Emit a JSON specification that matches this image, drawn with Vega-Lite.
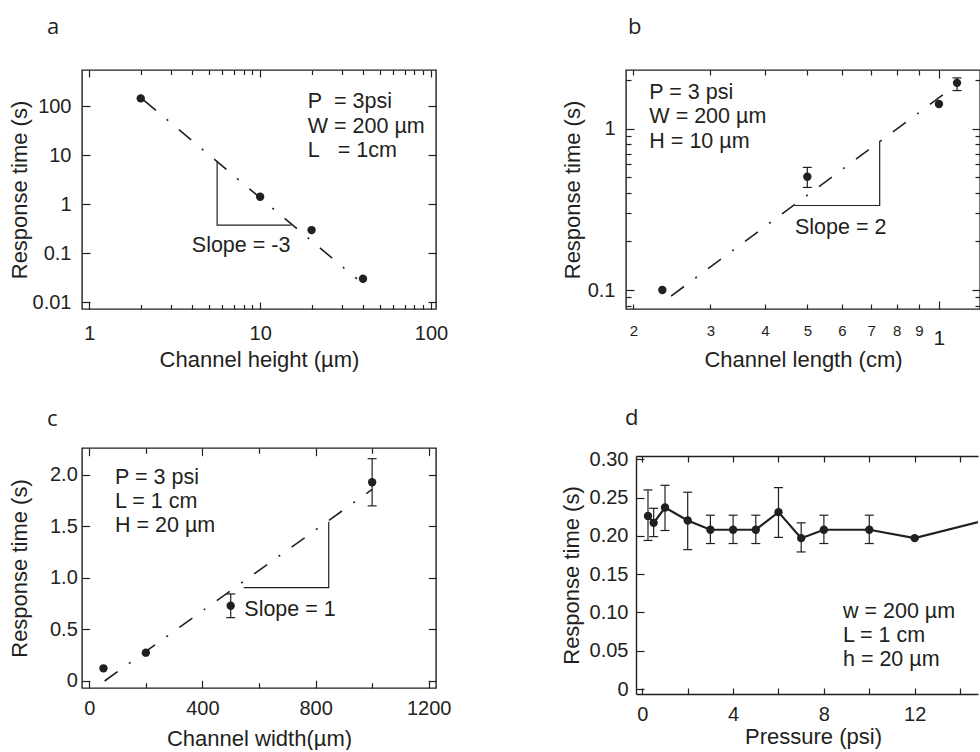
{
 "$schema": "https://vega.github.io/schema/vega-lite/v6.json",
 "background": "white",
 "padding": {"left": 7, "top": 15, "right": 0, "bottom": 0},
 "columns": 2,
 "align": "none",
 "bounds": "full",
 "spacing": {"row": 36, "column": 108},
 "config": {
  "font": "Liberation Sans",
  "axis": {"labelFont": "Liberation Sans", "labelFontSize": 20, "labelColor": "#231f20", "titleFont": "Liberation Sans", "titleFontSize": 22, "titleFontWeight": "normal", "titleColor": "#231f20", "tickColor": "#231f20", "tickWidth": 1.2, "domainColor": "#231f20", "domainWidth": 1.4, "grid": false, "labelFlush": false, "labelOverlap": false, "titlePadding": 0},
  "title": {"font": "Open Sans", "fontSize": 22, "fontWeight": "normal", "color": "#231f20", "anchor": "start", "frame": "group", "baseline": "alphabetic"},
  "view": {"stroke": "#231f20", "strokeWidth": 1.4}
 },
 "datasets": {
  "pts_a": [{"height": 2, "time": 143}, {"height": 10, "time": 1.41}, {"height": 20, "time": 0.294}, {"height": 40, "time": 0.0299}],
  "fit_a": [{"height": 2.08, "time": 132}, {"height": 36.9, "time": 0.0295}],
  "tri_a": [{"height": 5.6, "time": 7.55, "step": 1}, {"height": 5.6, "time": 0.37, "step": 2}, {"height": 15.2, "time": 0.37, "step": 3}],
  "pts_b": [{"length": 0.233, "time": 0.1}, {"length": 0.5, "time": 0.503, "lo": 0.432, "hi": 0.575}, {"length": 1.0, "time": 1.42}, {"length": 1.1, "time": 1.92, "lo": 1.72, "hi": 2.06}],
  "fit_b": [{"length": 0.244, "time": 0.0918}, {"length": 1.077, "time": 1.8}],
  "tri_b": [{"length": 0.732, "time": 0.842, "step": 1}, {"length": 0.732, "time": 0.334, "step": 2}, {"length": 0.468, "time": 0.334, "step": 3}],
  "pts_c": [{"width": 50, "time": 0.123}, {"width": 200, "time": 0.275}, {"width": 500, "time": 0.731, "lo": 0.615, "hi": 0.845}, {"width": 1000, "time": 1.929, "lo": 1.7, "hi": 2.158}],
  "fit_c": [{"width": 54, "time": 0.0}, {"width": 1000, "time": 1.86}],
  "tri_c": [{"width": 846.5, "time": 1.547, "step": 1}, {"width": 846.5, "time": 0.906, "step": 2}, {"width": 546, "time": 0.906, "step": 3}],
  "pts_d": [
   {"pressure": 0.25, "time": 0.226, "lo": 0.194, "hi": 0.26},
   {"pressure": 0.5, "time": 0.217, "lo": 0.199, "hi": 0.236},
   {"pressure": 1, "time": 0.237, "lo": 0.207, "hi": 0.266},
   {"pressure": 2, "time": 0.22, "lo": 0.182, "hi": 0.257},
   {"pressure": 3, "time": 0.208, "lo": 0.19, "hi": 0.227},
   {"pressure": 4, "time": 0.208, "lo": 0.19, "hi": 0.227},
   {"pressure": 5, "time": 0.208, "lo": 0.19, "hi": 0.227},
   {"pressure": 6, "time": 0.231, "lo": 0.198, "hi": 0.263},
   {"pressure": 7, "time": 0.197, "lo": 0.179, "hi": 0.217},
   {"pressure": 8, "time": 0.208, "lo": 0.19, "hi": 0.227},
   {"pressure": 10, "time": 0.208, "lo": 0.19, "hi": 0.227},
   {"pressure": 12, "time": 0.197},
   {"pressure": 16, "time": 0.227}
  ]
 },
 "concat": [
  {
   "width": 354, "height": 239,
   "title": {"text": "a", "dx": -35, "offset": 30},
   "resolve": {"axis": {"x": "independent", "y": "independent"}},
   "layer": [
    {"data": {"name": "fit_a"},
     "mark": {"type": "line", "color": "#231f20", "strokeWidth": 1.6, "strokeDash": [16, 14, 2, 14]},
     "encoding": {
      "x": {"field": "height", "type": "quantitative", "scale": {"type": "log", "domain": [0.906, 107], "nice": false},
       "axis": {"orient": "bottom", "title": "Channel height (µm)", "values": [1,2,3,4,5,6,7,8,9,10,20,30,40,50,60,70,80,90,100],
        "labelExpr": "indexof([1,10,100], datum.value) >= 0 ? format(datum.value, '~g') : ''",
        "tickSize": {"condition": {"test": "indexof([1,10,100], datum.value) >= 0", "value": -7}, "value": -4.5},
        "labelPadding": 21.5, "domain": false, "minExtent": 40, "maxExtent": 40}},
      "y": {"field": "time", "type": "quantitative", "scale": {"type": "log", "domain": [0.0072, 543], "nice": false},
       "axis": {"orient": "left", "title": "Response time (s)", "values": [0.01, 0.1, 1, 10, 100], "labelExpr": "format(datum.value, '~g')", "tickSize": -8, "labelPadding": 19, "domain": false, "minExtent": 51, "maxExtent": 51}}
     }},
    {"data": {"name": "tri_a"},
     "mark": {"type": "line", "color": "#231f20", "strokeWidth": 1.2},
     "encoding": {
      "x": {"field": "height", "type": "quantitative",
       "axis": {"orient": "top", "title": null, "labels": false, "values": [1,2,3,4,5,6,7,8,9,10,20,30,40,50,60,70,80,90,100],
        "tickSize": {"condition": {"test": "indexof([1,10,100], datum.value) >= 0", "value": -7}, "value": -4.5},
        "domain": false, "minExtent": 0, "maxExtent": 0}},
      "y": {"field": "time", "type": "quantitative",
       "axis": {"orient": "right", "title": null, "labels": false, "values": [0.01, 0.1, 1, 10, 100], "tickSize": -8, "domain": false, "minExtent": 0, "maxExtent": 0}},
      "order": {"field": "step", "type": "quantitative"}
     }},
    {"data": {"name": "pts_a"},
     "mark": {"type": "point", "filled": true, "size": 70, "opacity": 1, "color": "#231f20"},
     "encoding": {"x": {"field": "height", "type": "quantitative", "axis": null}, "y": {"field": "time", "type": "quantitative", "axis": null}}},
    {"data": {"values": [{}]},
     "mark": {"type": "text", "text": ["P\u00a0 = 3psi", "W = 200 µm", "L\u00a0\u00a0 = 1cm"], "align": "left", "baseline": "alphabetic", "lineHeight": 24.2, "font": "Liberation Sans", "fontSize": 21.5, "color": "#231f20"},
     "encoding": {"x": {"datum": 19.0, "type": "quantitative", "axis": null}, "y": {"datum": 89.7, "type": "quantitative", "axis": null}}},
    {"data": {"values": [{}]},
     "mark": {"type": "text", "text": "Slope = -3", "align": "left", "baseline": "alphabetic", "font": "Liberation Sans", "fontSize": 21.5, "color": "#231f20"},
     "encoding": {"x": {"datum": 3.98, "type": "quantitative", "axis": null}, "y": {"datum": 0.1033, "type": "quantitative", "axis": null}}}
   ]
  },
  {
   "width": 354, "height": 239,
   "title": {"text": "b", "dx": 2, "offset": 30},
   "resolve": {"axis": {"x": "independent", "y": "independent"}},
   "layer": [
    {"data": {"name": "fit_b"},
     "mark": {"type": "line", "color": "#231f20", "strokeWidth": 1.6, "strokeDash": [16, 14, 2, 14]},
     "encoding": {
      "x": {"field": "length", "type": "quantitative", "scale": {"type": "log", "domain": [0.1924, 1.2416], "nice": false},
       "axis": {"orient": "bottom", "title": "Channel length (cm)", "values": [0.2,0.3,0.4,0.5,0.6,0.7,0.8,0.9,1],
        "labelExpr": "datum.value >= 0.99 ? '1' : '' + round(datum.value * 10)",
        "labelFontSize": {"condition": {"test": "datum.value >= 0.99", "value": 21}, "value": 15},
        "labelPadding": {"condition": {"test": "datum.value >= 0.99", "value": 26.5}, "value": 19},
        "tickSize": {"condition": {"test": "datum.value >= 0.99", "value": -8}, "value": -5},
        "domain": false, "minExtent": 40, "maxExtent": 40}},
      "y": {"field": "time", "type": "quantitative", "scale": {"type": "log", "domain": [0.0763, 2.306], "nice": false},
       "axis": {"orient": "left", "title": "Response time (s)", "values": [0.08,0.09,0.1,0.2,0.3,0.4,0.5,0.6,0.7,0.8,0.9,1,2],
        "labelExpr": "datum.value == 1 ? '1' : datum.value == 0.1 ? '0.1' : ''",
        "tickSize": {"condition": {"test": "datum.value == 1 || datum.value == 0.1", "value": -8}, "value": -5},
        "labelPadding": 19, "domain": false, "minExtent": 42, "maxExtent": 42}}
     }},
    {"data": {"name": "tri_b"},
     "mark": {"type": "line", "color": "#231f20", "strokeWidth": 1.2},
     "encoding": {
      "x": {"field": "length", "type": "quantitative",
       "axis": {"orient": "top", "title": null, "labels": false, "values": [0.2,0.3,0.4,0.5,0.6,0.7,0.8,0.9,1],
        "tickSize": {"condition": {"test": "datum.value >= 0.99", "value": -8}, "value": -5},
        "domain": false, "minExtent": 0, "maxExtent": 0}},
      "y": {"field": "time", "type": "quantitative",
       "axis": {"orient": "right", "title": null, "labels": false, "values": [0.08,0.09,0.1,0.2,0.3,0.4,0.5,0.6,0.7,0.8,0.9,1,2],
        "tickSize": {"condition": {"test": "datum.value == 1 || datum.value == 0.1", "value": -8}, "value": -5},
        "domain": false, "minExtent": 0, "maxExtent": 0}},
      "order": {"field": "step", "type": "quantitative"}
     }},
    {"data": {"name": "pts_b"}, "transform": [{"filter": "isValid(datum.lo)"}],
     "mark": {"type": "rule", "color": "#231f20", "strokeWidth": 1.2},
     "encoding": {"x": {"field": "length", "type": "quantitative", "axis": null}, "y": {"field": "lo", "type": "quantitative", "axis": null}, "y2": {"field": "hi"}}},
    {"data": {"name": "pts_b"}, "transform": [{"filter": "isValid(datum.lo)"}],
     "mark": {"type": "tick", "orient": "horizontal", "size": 9, "thickness": 1.2, "opacity": 1, "color": "#231f20"},
     "encoding": {"x": {"field": "length", "type": "quantitative", "axis": null}, "y": {"field": "lo", "type": "quantitative", "axis": null}}},
    {"data": {"name": "pts_b"}, "transform": [{"filter": "isValid(datum.lo)"}],
     "mark": {"type": "tick", "orient": "horizontal", "size": 9, "thickness": 1.2, "opacity": 1, "color": "#231f20"},
     "encoding": {"x": {"field": "length", "type": "quantitative", "axis": null}, "y": {"field": "hi", "type": "quantitative", "axis": null}}},
    {"data": {"name": "pts_b"},
     "mark": {"type": "point", "filled": true, "size": 70, "opacity": 1, "color": "#231f20"},
     "encoding": {"x": {"field": "length", "type": "quantitative", "axis": null}, "y": {"field": "time", "type": "quantitative", "axis": null}}},
    {"data": {"values": [{}]},
     "mark": {"type": "text", "text": ["P = 3 psi", "W = 200 µm", "H = 10 µm"], "align": "left", "baseline": "alphabetic", "lineHeight": 24.2, "font": "Liberation Sans", "fontSize": 21.5, "color": "#231f20"},
     "encoding": {"x": {"datum": 0.2176, "type": "quantitative", "axis": null}, "y": {"datum": 1.52, "type": "quantitative", "axis": null}}},
    {"data": {"values": [{}]},
     "mark": {"type": "text", "text": "Slope = 2", "align": "left", "baseline": "alphabetic", "font": "Liberation Sans", "fontSize": 21.5, "color": "#231f20"},
     "encoding": {"x": {"datum": 0.4686, "type": "quantitative", "axis": null}, "y": {"datum": 0.2222, "type": "quantitative", "axis": null}}}
   ]
  },
  {
   "width": 354, "height": 240,
   "title": {"text": "c", "dx": -35, "offset": 16},
   "resolve": {"axis": {"x": "independent", "y": "independent"}},
   "layer": [
    {"data": {"name": "fit_c"},
     "mark": {"type": "line", "color": "#231f20", "strokeWidth": 1.6, "strokeDash": [16, 14, 2, 14]},
     "encoding": {
      "x": {"field": "width", "type": "quantitative", "scale": {"domain": [-25.8, 1225.8], "nice": false, "zero": false},
       "axis": {"orient": "bottom", "title": "Channel width(µm)", "values": [0,200,400,600,800,1000,1200],
        "labelExpr": "datum.value % 400 == 0 ? '' + datum.value : ''",
        "tickSize": {"condition": {"test": "datum.value % 400 == 0", "value": -7.7}, "value": -5.3},
        "labelPadding": 18.2, "domain": false, "minExtent": 40, "maxExtent": 40}},
      "y": {"field": "time", "type": "quantitative", "scale": {"domain": [-0.068, 2.262], "nice": false, "zero": false},
       "axis": {"orient": "left", "title": "Response time (s)", "values": [0, 0.5, 1, 1.5, 2],
        "labelExpr": "datum.value == 0 ? '0' : format(datum.value, '.1f')",
        "tickSize": -7.7, "labelPadding": 12.4, "domain": false, "minExtent": 51, "maxExtent": 51}}
     }},
    {"data": {"name": "tri_c"},
     "mark": {"type": "line", "color": "#231f20", "strokeWidth": 1.2},
     "encoding": {
      "x": {"field": "width", "type": "quantitative",
       "axis": {"orient": "top", "title": null, "labels": false, "values": [0,200,400,600,800,1000,1200],
        "tickSize": {"condition": {"test": "datum.value % 400 == 0", "value": -7.7}, "value": -5.3},
        "domain": false, "minExtent": 0, "maxExtent": 0}},
      "y": {"field": "time", "type": "quantitative",
       "axis": {"orient": "right", "title": null, "labels": false, "values": [0, 0.5, 1, 1.5, 2], "tickSize": -7.7, "domain": false, "minExtent": 0, "maxExtent": 0}},
      "order": {"field": "step", "type": "quantitative"}
     }},
    {"data": {"name": "pts_c"}, "transform": [{"filter": "isValid(datum.lo)"}],
     "mark": {"type": "rule", "color": "#231f20", "strokeWidth": 1.2},
     "encoding": {"x": {"field": "width", "type": "quantitative", "axis": null}, "y": {"field": "lo", "type": "quantitative", "axis": null}, "y2": {"field": "hi"}}},
    {"data": {"name": "pts_c"}, "transform": [{"filter": "isValid(datum.lo)"}],
     "mark": {"type": "tick", "orient": "horizontal", "size": 9, "thickness": 1.2, "opacity": 1, "color": "#231f20"},
     "encoding": {"x": {"field": "width", "type": "quantitative", "axis": null}, "y": {"field": "lo", "type": "quantitative", "axis": null}}},
    {"data": {"name": "pts_c"}, "transform": [{"filter": "isValid(datum.lo)"}],
     "mark": {"type": "tick", "orient": "horizontal", "size": 9, "thickness": 1.2, "opacity": 1, "color": "#231f20"},
     "encoding": {"x": {"field": "width", "type": "quantitative", "axis": null}, "y": {"field": "hi", "type": "quantitative", "axis": null}}},
    {"data": {"name": "pts_c"},
     "mark": {"type": "point", "filled": true, "size": 70, "opacity": 1, "color": "#231f20"},
     "encoding": {"x": {"field": "width", "type": "quantitative", "axis": null}, "y": {"field": "time", "type": "quantitative", "axis": null}}},
    {"data": {"values": [{}]},
     "mark": {"type": "text", "text": ["P = 3 psi", "L = 1 cm", "H = 20 µm"], "align": "left", "baseline": "alphabetic", "lineHeight": 24, "font": "Liberation Sans", "fontSize": 21.5, "color": "#231f20"},
     "encoding": {"x": {"datum": 91, "type": "quantitative", "axis": null}, "y": {"datum": 1.91, "type": "quantitative", "axis": null}}},
    {"data": {"values": [{}]},
     "mark": {"type": "text", "text": "Slope = 1", "align": "left", "baseline": "alphabetic", "font": "Liberation Sans", "fontSize": 21.5, "color": "#231f20"},
     "encoding": {"x": {"datum": 548, "type": "quantitative", "axis": null}, "y": {"datum": 0.634, "type": "quantitative", "axis": null}}}
   ]
  },
  {
   "width": 342, "height": 238,
   "title": {"text": "d", "dx": -11, "offset": 19},
   "view": {"stroke": null},
   "resolve": {"axis": {"x": "independent", "y": "independent"}},
   "layer": [
    {"data": {"name": "pts_d"},
     "mark": {"type": "line", "color": "#231f20", "strokeWidth": 2.2, "clip": true},
     "encoding": {
      "x": {"field": "pressure", "type": "quantitative", "scale": {"domain": [-0.278, 14.79], "nice": false, "zero": false},
       "axis": {"orient": "bottom", "title": "Pressure (psi)", "titleX": 177, "values": [0,2,4,6,8,10,12,14],
        "labelExpr": "datum.value % 4 == 0 ? '' + datum.value : ''",
        "tickSize": -6, "labelPadding": 16.5, "domain": true, "minExtent": 32, "maxExtent": 32}},
      "y": {"field": "time", "type": "quantitative", "scale": {"domain": [-0.0065, 0.3043], "nice": false, "zero": false},
       "axis": {"orient": "left", "title": "Response time (s)", "values": [0, 0.05, 0.1, 0.15, 0.2, 0.25, 0.3],
        "labelExpr": "datum.value == 0 ? '0' : format(datum.value, '.2f')",
        "tickSize": -8, "labelPadding": 16, "domain": true, "minExtent": 53, "maxExtent": 53}}
     }},
    {"data": {"name": "pts_d"}, "transform": [{"filter": "isValid(datum.lo)"}],
     "mark": {"type": "rule", "color": "#231f20", "strokeWidth": 1.2},
     "encoding": {
      "x": {"field": "pressure", "type": "quantitative",
       "axis": {"orient": "top", "title": null, "labels": false, "values": [0,2,4,6,8,10,12,14], "tickSize": -6, "domain": true, "minExtent": 0, "maxExtent": 0}},
      "y": {"field": "lo", "type": "quantitative", "axis": null}, "y2": {"field": "hi"}}},
    {"data": {"name": "pts_d"}, "transform": [{"filter": "isValid(datum.lo)"}],
     "mark": {"type": "tick", "orient": "horizontal", "size": 9, "thickness": 1.2, "opacity": 1, "color": "#231f20"},
     "encoding": {"x": {"field": "pressure", "type": "quantitative", "axis": null}, "y": {"field": "lo", "type": "quantitative", "axis": null}}},
    {"data": {"name": "pts_d"}, "transform": [{"filter": "isValid(datum.lo)"}],
     "mark": {"type": "tick", "orient": "horizontal", "size": 9, "thickness": 1.2, "opacity": 1, "color": "#231f20"},
     "encoding": {"x": {"field": "pressure", "type": "quantitative", "axis": null}, "y": {"field": "hi", "type": "quantitative", "axis": null}}},
    {"data": {"name": "pts_d"},
     "mark": {"type": "point", "filled": true, "size": 70, "opacity": 1, "color": "#231f20", "clip": true},
     "encoding": {"x": {"field": "pressure", "type": "quantitative", "axis": null}, "y": {"field": "time", "type": "quantitative", "axis": null}}},
    {"data": {"values": [{}]},
     "mark": {"type": "text", "text": ["w = 200 µm", "L = 1 cm", "h = 20 µm"], "align": "left", "baseline": "alphabetic", "lineHeight": 24, "font": "Liberation Sans", "fontSize": 21.5, "color": "#231f20"},
     "encoding": {"x": {"datum": 8.84, "type": "quantitative", "axis": null}, "y": {"datum": 0.0922, "type": "quantitative", "axis": null}}}
   ]
  }
 ]
}
